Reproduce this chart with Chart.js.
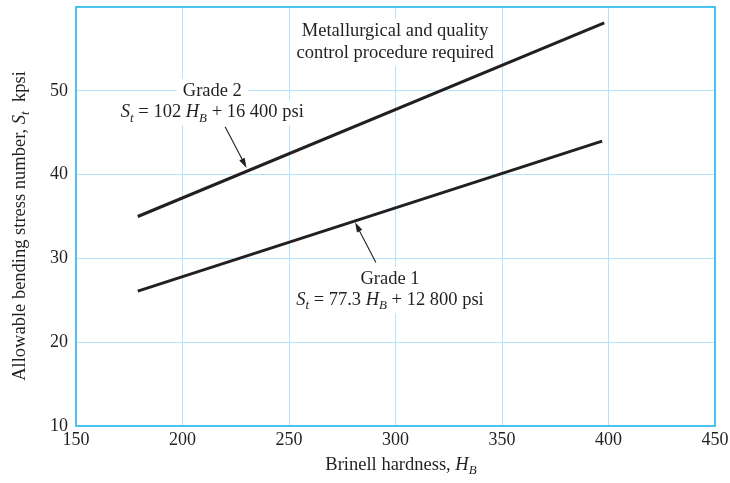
<!DOCTYPE html>
<html>
<head>
<meta charset="utf-8">
<script src="https://cdn.jsdelivr.net/npm/chart.js@4"></script>
<style>
  html, body { margin: 0; padding: 0; background: #fff; }
  #wrap { width: 730px; height: 483px; }
</style>
</head>
<body>
<div id="wrap"><canvas id="grafico" width="730" height="483"></canvas></div>
<script>
// Datos (dureza Brinell HB, kpsi)
const grado1HB = [179, 397];
const grado1St = [26.1, 44.0];
const grado2HB = [179, 398];
const grado2St = [35.0, 58.1];

const ticksX = [150, 200, 250, 300, 350, 400, 450];
const ticksY = [10, 20, 30, 40, 50];
const maxY = 60;

const FUENTE = '"Liberation Serif", "DejaVu Serif", serif';
const NEGRO = '#231f20';
const BORDE = '#4cc2ef';
const REJILLA = '#b4e4fa';
const TAM = 18.5;

// Textos de las anotaciones (segmentos: cursiva / subíndice)
const notas = [
  { x: 214, y: 50.0, seg: [{ t: 'Grade 2' }] },
  { x: 214, y: 47.4, seg: [{ t: 'S', it: 1 }, { t: 't', it: 1, sub: 1 }, { t: ' = 102 ' }, { t: 'H', it: 1 }, { t: 'B', it: 1, sub: 1 }, { t: ' + 16 400 psi' }] },
  { x: 297.4, y: 27.5, seg: [{ t: 'Grade 1' }] },
  { x: 297.4, y: 25.0, seg: [{ t: 'S', it: 1 }, { t: 't', it: 1, sub: 1 }, { t: ' = 77.3 ' }, { t: 'H', it: 1 }, { t: 'B', it: 1, sub: 1 }, { t: ' + 12 800 psi' }] },
  { x: 299.8, y: 57.1, seg: [{ t: 'Metallurgical and quality' }] },
  { x: 299.8, y: 54.5, seg: [{ t: 'control procedure required' }] }
];

// Flechas: desde (x1,y1) hasta la punta (x2,y2)
const flechas = [
  [220, 45.7, 230.1, 40.8],
  [290.8, 29.5, 281, 34.3]
];

function fuente(s, tam) {
  return (s.it ? 'italic ' : '') + (s.sub ? tam * 0.7 : tam) + 'px ' + FUENTE;
}

function anchoSeg(ctx, segs, tam) {
  let w = 0;
  segs.forEach(s => { ctx.font = fuente(s, tam); w += ctx.measureText(s.t).width; });
  return w;
}

function dibujarSeg(ctx, segs, x, y, tam) {
  ctx.textBaseline = 'middle';
  ctx.textAlign = 'left';
  let cx = x;
  segs.forEach(s => {
    ctx.font = fuente(s, tam);
    ctx.fillText(s.t, cx, s.sub ? y + tam * 0.3 : y);
    cx += ctx.measureText(s.t).width;
  });
}

const anotaciones = {
  id: 'anotaciones',
  beforeDatasetsDraw(chart) {
    const { ctx, scales: { x, y } } = chart;
    ctx.save();
    notas.forEach(n => {
      const px = x.getPixelForValue(n.x);
      const py = y.getPixelForValue(n.y);
      const w = anchoSeg(ctx, n.seg, TAM);
      ctx.fillStyle = '#fff';
      ctx.fillRect(px - w / 2 - 6, py - 12, w + 12, 25);
      ctx.fillStyle = NEGRO;
      dibujarSeg(ctx, n.seg, px - w / 2, py, TAM);
    });
    flechas.forEach(f => {
      const x1 = x.getPixelForValue(f[0]), y1 = y.getPixelForValue(f[1]);
      const x2 = x.getPixelForValue(f[2]), y2 = y.getPixelForValue(f[3]);
      const ang = Math.atan2(y2 - y1, x2 - x1);
      ctx.strokeStyle = NEGRO;
      ctx.fillStyle = NEGRO;
      ctx.lineWidth = 1.1;
      ctx.beginPath();
      ctx.moveTo(x1, y1);
      ctx.lineTo(x2 - 6 * Math.cos(ang), y2 - 6 * Math.sin(ang));
      ctx.stroke();
      ctx.beginPath();
      ctx.moveTo(x2, y2);
      ctx.lineTo(x2 - 10 * Math.cos(ang) + 3 * Math.sin(ang), y2 - 10 * Math.sin(ang) - 3 * Math.cos(ang));
      ctx.lineTo(x2 - 10 * Math.cos(ang) - 3 * Math.sin(ang), y2 - 10 * Math.sin(ang) + 3 * Math.cos(ang));
      ctx.closePath();
      ctx.fill();
    });
    ctx.restore();
  },
  afterDraw(chart) {
    const { ctx, chartArea: a } = chart;
    ctx.save();
    // marco del área
    ctx.strokeStyle = BORDE;
    ctx.lineWidth = 2;
    ctx.strokeRect(a.left, a.top, a.right - a.left, a.bottom - a.top);
    // títulos de los ejes
    ctx.fillStyle = NEGRO;
    const tx = [{ t: 'Brinell hardness, ' }, { t: 'H', it: 1 }, { t: 'B', it: 1, sub: 1 }];
    const wx = anchoSeg(ctx, tx, TAM);
    dibujarSeg(ctx, tx, 401 - wx / 2, 465, TAM);
    const ty = [{ t: 'Allowable bending stress number, ' }, { t: 'S', it: 1 }, { t: 't', it: 1, sub: 1 }, { t: '  kpsi' }];
    const wy = anchoSeg(ctx, ty, TAM);
    ctx.translate(20, 226);
    ctx.rotate(-Math.PI / 2);
    dibujarSeg(ctx, ty, -wy / 2, 0, TAM);
    ctx.restore();
  }
};

new Chart(document.getElementById('grafico'), {
  type: 'scatter',
  data: {
    datasets: [
      {
        label: 'Grade 1',
        data: grado1HB.map((h, i) => ({ x: h, y: grado1St[i] })),
        showLine: true,
        borderColor: NEGRO,
        borderWidth: 3,
        pointRadius: 0
      },
      {
        label: 'Grade 2',
        data: grado2HB.map((h, i) => ({ x: h, y: grado2St[i] })),
        showLine: true,
        borderColor: NEGRO,
        borderWidth: 3,
        pointRadius: 0
      }
    ]
  },
  options: {
    responsive: false,
    animation: false,
    layout: { padding: { top: 7, right: 15, left: 0, bottom: 0 } },
    plugins: { legend: { display: false }, tooltip: { enabled: false } },
    scales: {
      x: {
        type: 'linear',
        min: ticksX[0],
        max: ticksX[ticksX.length - 1],
        afterBuildTicks: s => { s.ticks = ticksX.map(v => ({ value: v })); },
        afterFit: s => { s.height = 57; s.paddingLeft = 0; s.paddingRight = 0; },
        grid: { color: REJILLA, lineWidth: 1, drawTicks: false },
        border: { display: false },
        ticks: { color: NEGRO, font: { family: FUENTE, size: 18 }, padding: 3, maxRotation: 0 }
      },
      y: {
        type: 'linear',
        min: ticksY[0],
        max: maxY,
        afterBuildTicks: s => { s.ticks = ticksY.map(v => ({ value: v })); },
        afterFit: s => { s.width = 76; s.paddingTop = 0; s.paddingBottom = 0; },
        grid: { color: REJILLA, lineWidth: 1, drawTicks: false },
        border: { display: false },
        ticks: { color: NEGRO, font: { family: FUENTE, size: 18 }, padding: 8 }
      }
    }
  },
  plugins: [anotaciones]
});
</script>
</body>
</html>
